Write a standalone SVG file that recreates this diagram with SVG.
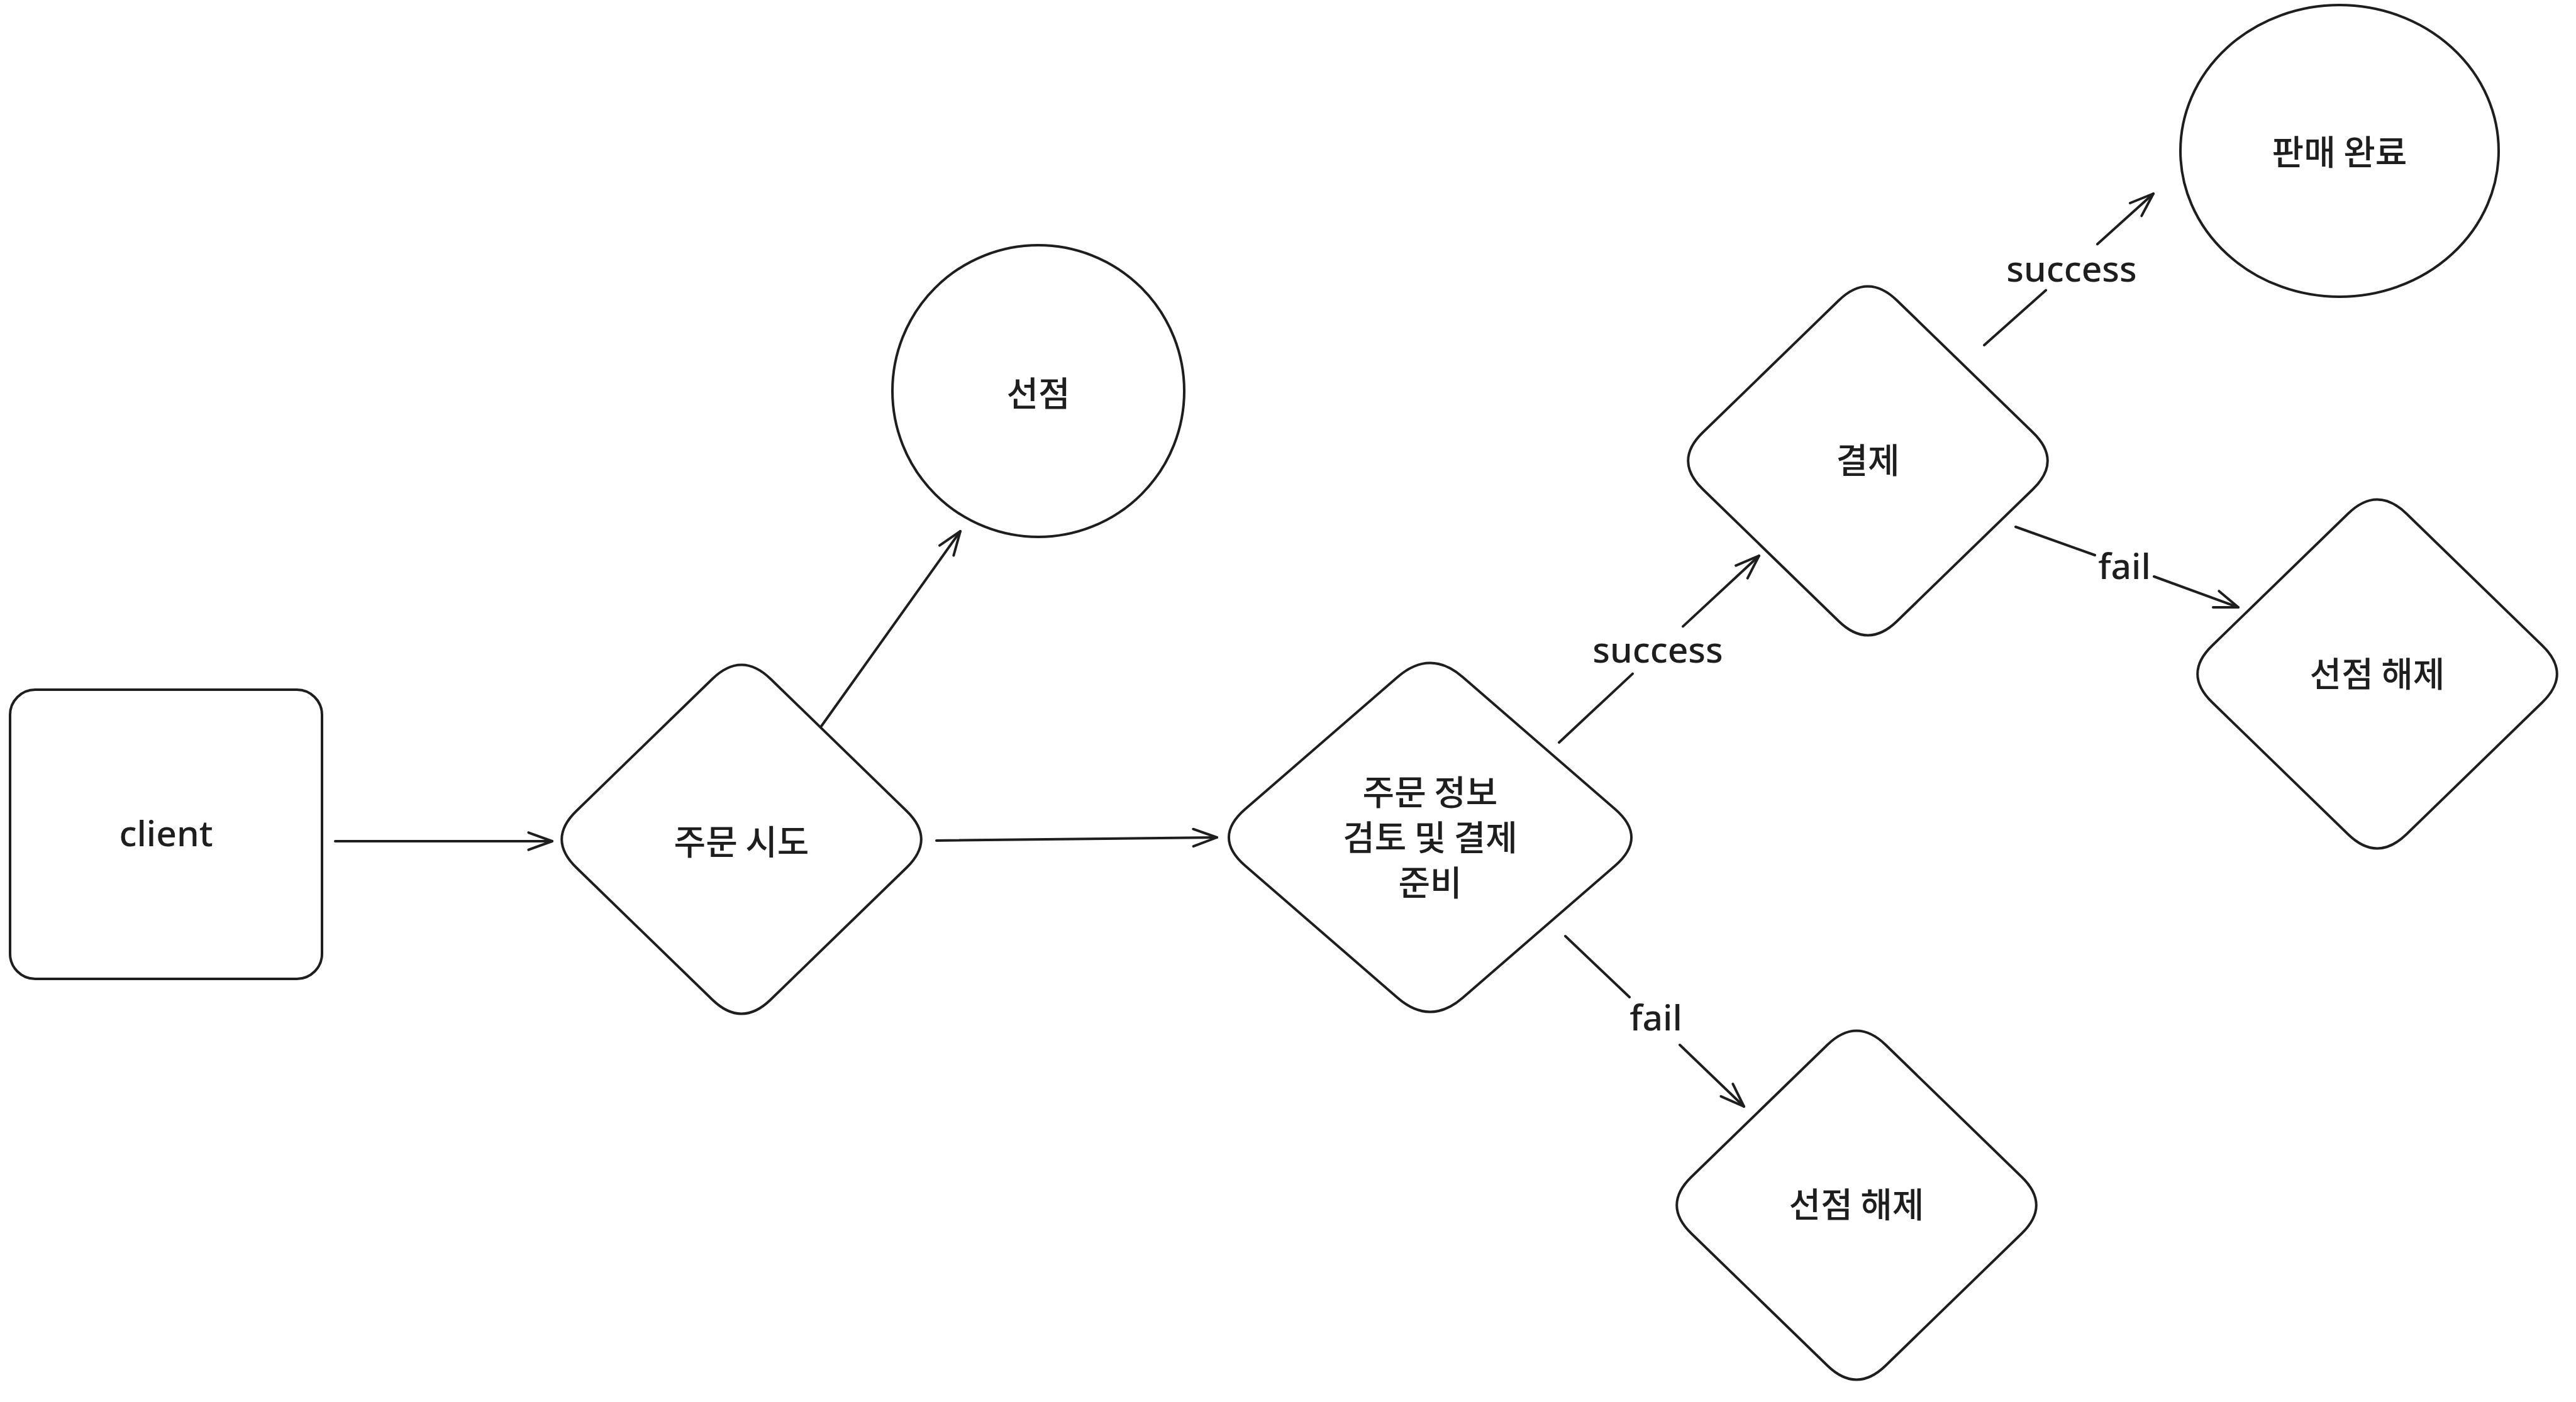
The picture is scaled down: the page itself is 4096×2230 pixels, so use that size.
<svg xmlns="http://www.w3.org/2000/svg" width="4096" height="2230" viewBox="0 0 4096 2230">
<defs>
<style>
.shape{fill:#ffffff;stroke:#1e1e1e;stroke-width:4;stroke-linejoin:round;stroke-linecap:round}
.conn{fill:none;stroke:#1e1e1e;stroke-width:4;stroke-linecap:round;stroke-linejoin:round}
.ko{font-family:"Noto Sans CJK KR","Noto Sans",sans-serif;font-size:55px;font-weight:500;fill:#1e1e1e;text-anchor:middle;dominant-baseline:central}
.en{font-family:"Noto Sans","Liberation Sans",sans-serif;font-size:57px;font-weight:500;fill:#1e1e1e;text-anchor:middle;dominant-baseline:central}
</style>
<marker id="ah" markerUnits="userSpaceOnUse" viewBox="-45 -20 50 40" refX="0" refY="0" markerWidth="50" markerHeight="40" orient="auto" overflow="visible">
<path d="M -37.6,-13.7 L 0,0 L -37.6,13.7" fill="none" stroke="#1e1e1e" stroke-width="4" stroke-linecap="round" stroke-linejoin="round"/>
</marker>
<path id="dia" d="M -262.6,-45 L -46.4,-255 Q 0,-300 46.4,-255 L 262.6,-45 Q 309,0 262.6,45 L 46.4,255 Q 0,300 -46.4,255 L -262.6,45 Q -309,0 -262.6,-45 Z"/>
</defs>
<rect x="0" y="0" width="4096" height="2230" fill="#ffffff"/>

<g id="connectors">
<path class="conn" d="M 533,1338 L 878,1338" marker-end="url(#ah)"/>
<path class="conn" d="M 1306,1155 L 1527,845" marker-end="url(#ah)"/>
<path class="conn" d="M 1489,1337 L 1935,1332" marker-end="url(#ah)"/>
<path class="conn" d="M 2479,1181 L 2596,1071.6 M 2676,996.4 L 2797,884" marker-end="url(#ah)"/>
<path class="conn" d="M 3155,549 L 3253,461.7 M 3335,388.3 L 3424,308" marker-end="url(#ah)"/>
<path class="conn" d="M 3205,838 L 3331,883 M 3425,917 L 3559,966" marker-end="url(#ah)"/>
<path class="conn" d="M 2489,1489 L 2591,1586 M 2671,1662 L 2773,1760" marker-end="url(#ah)"/>
<text class="en" x="2636" y="1032">success</text>
<text class="en" x="3294" y="426">success</text>
<text class="en" x="3378" y="899">fail</text>
<text class="en" x="2633" y="1617">fail</text>
</g>

<g id="node-client">
<rect class="shape" x="16" y="1097" width="496" height="460" rx="40" ry="40"/>
<text class="en" x="264" y="1324">client</text>
</g>

<g id="node-order-try" transform="translate(1179,1335)">
<use href="#dia" class="shape"/>
<text class="ko" x="0" y="0">주문 시도</text>
</g>

<g id="node-preempt">
<circle class="shape" cx="1651" cy="622" r="232"/>
<text class="ko" x="1651" y="622">선점</text>
</g>

<g id="node-review" transform="translate(2274,1332)">
<path class="shape" d="M -294.1,-45 L -51.9,-255 Q 0,-300 51.9,-255 L 294.1,-45 Q 346,0 294.1,45 L 51.9,255 Q 0,300 -51.9,255 L -294.1,45 Q -346,0 -294.1,-45 Z"/>
<text class="ko" x="0" y="-76">주문 정보</text>
<text class="ko" x="0" y="-4">검토 및 결제</text>
<text class="ko" x="0" y="68">준비</text>
</g>

<g id="node-payment" transform="translate(2970,733)">
<use href="#dia" class="shape"/>
<text class="ko" x="0" y="-5">결제</text>
</g>

<g id="node-sold">
<ellipse class="shape" cx="3720" cy="240" rx="253" ry="232"/>
<text class="ko" x="3720" y="238">판매 완료</text>
</g>

<g id="node-release-right" transform="translate(3780,1072)">
<use href="#dia" class="shape"/>
<text class="ko" x="0" y="-4">선점 해제</text>
</g>

<g id="node-release-bottom" transform="translate(2952,1917)">
<use href="#dia" class="shape"/>
<text class="ko" x="0" y="-5">선점 해제</text>
</g>
</svg>
